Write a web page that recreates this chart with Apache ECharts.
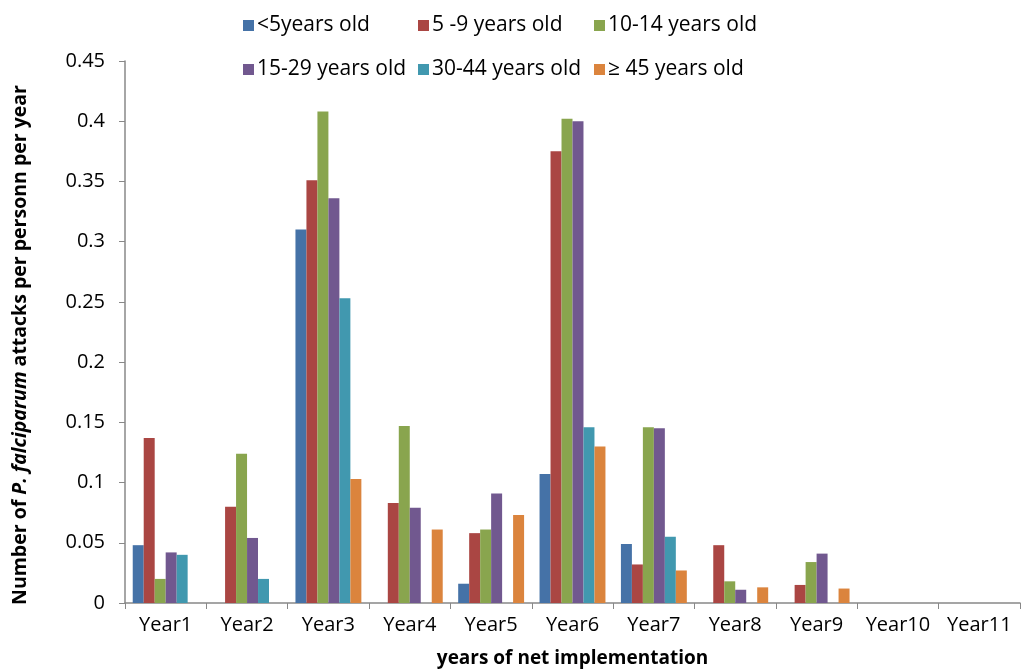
<!DOCTYPE html>
<html><head><meta charset="utf-8">
<script src="https://cdn.jsdelivr.net/npm/echarts@6/dist/echarts.min.js"></script>
<style>html,body{margin:0;padding:0;background:#fff}#c{width:1021px;height:670px}</style>
</head><body><div id="c"></div>
<script>
var categories = ['Year1','Year2','Year3','Year4','Year5','Year6','Year7','Year8','Year9','Year10','Year11'];
var seriesNames = ['<5years old','5 -9 years old','10-14 years old','15-29 years old','30-44 years old','\u2265 45 years old'];
var under5   = [0.048, 0,     0.310, 0,     0.016, 0.107, 0.049, 0,     0,     0, 0];
var age5to9  = [0.137, 0.080, 0.351, 0.083, 0.058, 0.375, 0.032, 0.048, 0.015, 0, 0];
var age10to14= [0.020, 0.124, 0.408, 0.147, 0.061, 0.402, 0.146, 0.018, 0.034, 0, 0];
var age15to29= [0.042, 0.054, 0.336, 0.079, 0.091, 0.400, 0.145, 0.011, 0.041, 0, 0];
var age30to44= [0.040, 0.020, 0.253, 0,     0,     0.146, 0.055, 0,     0,     0, 0];
var age45plus= [0,     0,     0.103, 0.061, 0.073, 0.130, 0.027, 0.013, 0.012, 0, 0];
var yTicks = [0,0.05,0.1,0.15,0.2,0.25,0.3,0.35,0.4,0.45];

var colors = ['#4572A7','#AA4643','#89A54E','#71588F','#4198AF','#DB843D'];
var values = [under5, age5to9, age10to14, age15to29, age30to44, age45plus];
var FONT = "'Open Sans', 'Noto Sans', sans-serif";

var legendPos = [[238,10],[413,10],[589,10],[238,54],[413,54],[589,54]];
var legends = seriesNames.map(function(n,i){
  return {data:[n], left:legendPos[i][0], top:legendPos[i][1], itemWidth:11, itemHeight:11, itemGap:0,
    icon:'rect', textStyle:{fontFamily:FONT, fontSize:21, color:'#000', padding:[0,0,0,-2]}, selectedMode:false};
});

var chart = echarts.init(document.getElementById('c'));
chart.setOption({
  animation:false,
  color: colors,
  legend: legends,
  grid:{left:125, right:1, top:61, bottom:67, containLabel:false, outerBoundsMode:'none'},
  xAxis:{type:'category', data:categories,
    axisLine:{lineStyle:{color:'#888', width:1.5}},
    axisTick:{show:true, length:6, lineStyle:{color:'#888'}},
    axisLabel:{fontFamily:FONT, fontSize:20, color:'#000', margin:12, interval:0},
    name:'years of net implementation', nameLocation:'middle', nameGap:46,
    nameTextStyle:{fontFamily:FONT, fontSize:19, fontWeight:'bold', color:'#000'}
  },
  yAxis:{type:'value', min:0, max:0.45, interval:0.05,
    axisLine:{show:true, lineStyle:{color:'#888', width:1.5}},
    axisTick:{show:true, length:6, lineStyle:{color:'#888'}},
    splitLine:{show:false},
    axisLabel:{fontFamily:FONT, fontSize:20, color:'#000', margin:20,
      formatter:function(v){ var s = yTicks.filter(function(t){return Math.abs(t-v)<1e-9;}); return s.length? String(parseFloat(v.toFixed(2))) : ''; }},
    name:'{b|Number of }{bi|P. falciparum}{b| attacks per personn per year}',
    nameLocation:'middle', nameRotate:90, nameGap:95,
    nameTextStyle:{padding:[0,26,0,0], rich:{
      b:{fontFamily:FONT, fontSize:19.5, fontWeight:'bold', color:'#000'},
      bi:{fontFamily:FONT, fontSize:19.5, fontWeight:'bold', fontStyle:'italic', color:'#000'}
    }}
  },
  series: seriesNames.map(function(n,i){
    return {name:n, type:'bar', data:values[i], barGap:'0%', barCategoryGap:'19%',
      itemStyle:{color:colors[i]}};
  })
});
</script></body></html>
